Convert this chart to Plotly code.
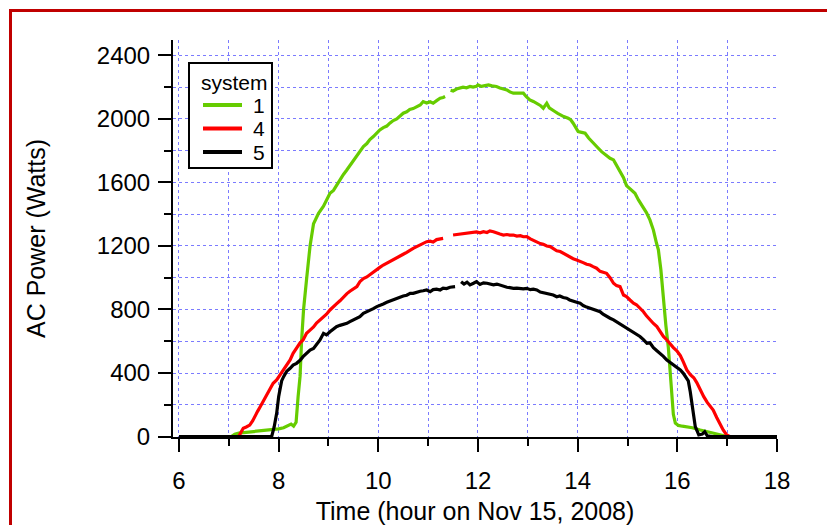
import plotly.graph_objects as go

# ---- data (hours, watts) ----
t1 = [6.0, 7.05, 7.12, 7.2, 7.3, 7.4, 7.5, 7.6, 7.7, 7.8, 7.9, 8.0, 8.1, 8.2, 8.25, 8.3, 8.35, 8.39, 8.43, 8.46,
      8.5, 8.56, 8.63, 8.7, 8.76, 8.8, 8.9, 8.96, 9.03, 9.1, 9.16, 9.23, 9.3, 9.36, 9.43, 9.5, 9.56, 9.63, 9.7, 9.77,
      9.83, 9.9, 9.97, 10.03, 10.1, 10.17, 10.23, 10.3, 10.37, 10.43, 10.5, 10.57, 10.63, 10.7, 10.77, 10.84, 10.9,
      10.97, 11.04, 11.1, 11.17, 11.24, 11.3, 11.34, 11.4, 11.45, 11.5, 11.57, 11.64, 11.7, 11.77, 11.84, 11.9, 11.97,
      12.0, 12.07, 12.14, 12.21, 12.28, 12.37, 12.44, 12.51, 12.58, 12.64, 12.71, 12.8, 12.91, 12.97, 13.04, 13.11,
      13.18, 13.25, 13.31, 13.38, 13.43, 13.48, 13.55, 13.6, 13.65, 13.72, 13.81, 13.86, 13.91, 13.96, 14.01, 14.08,
      14.15, 14.22, 14.31, 14.4, 14.48, 14.55, 14.65, 14.72, 14.78, 14.85, 14.92, 14.98, 15.05, 15.15, 15.22, 15.3,
      15.38, 15.45, 15.52, 15.58, 15.62, 15.67, 15.72, 15.77, 15.82, 15.86, 15.89, 15.92, 15.96, 16.02, 16.1, 16.19,
      16.3, 16.46, 16.6, 16.72, 16.85, 16.92, 17.0, 18.0]
p1 = [0, 0, 15, 22, 25, 28, 30, 33, 38, 40, 45, 48, 55, 70, 78, 65, 90, 250, 380, 600,
      800, 990, 1200, 1340, 1380, 1406, 1450, 1490, 1532, 1550, 1580, 1620, 1650, 1675, 1705, 1740, 1765, 1790, 1826, 1845,
      1870, 1889, 1915, 1931, 1945, 1955, 1973, 1990, 2000, 2020, 2036, 2045, 2060, 2065, 2078, 2088, 2109,
      2100, 2108, 2099, 2115, 2130, 2135, 2141, None, 2180, 2175, 2188, 2193, 2200, 2196, 2204, 2200, 2206,
      2214, 2205, 2210, 2214, 2208, 2204, 2195, 2190, 2183, 2170, 2162, 2162, 2162, 2140, 2120, 2110,
      2099, 2085, 2067, 2099, 2070, 2057, 2045, 2035, 2025, 2015, 2004, 1995, 1973, 1945, 1920, 1915,
      1910, 1880, 1847, 1820, 1794, 1775, 1752, 1742, 1710, 1668, 1630, 1580, 1560, 1532, 1490, 1450,
      1410, 1364, 1300, 1220, 1175, 1050, 860, 700, 560, 400, 300, 140, 85, 70, 65, 62,
      55, 41, 30, 20, 12, 8, 0, 0]

t4 = [6.0, 7.2, 7.25, 7.29, 7.35, 7.42, 7.48, 7.53, 7.58, 7.63, 7.7, 7.76, 7.83, 7.89, 7.96, 8.03, 8.1, 8.16, 8.23,
      8.29, 8.36, 8.43, 8.49, 8.56, 8.63, 8.7, 8.76, 8.83, 8.9, 8.96, 9.03, 9.1, 9.16, 9.23, 9.3, 9.37, 9.43, 9.5,
      9.57, 9.63, 9.7, 9.77, 9.83, 9.9, 9.97, 10.03, 10.1, 10.17, 10.23, 10.3, 10.37, 10.43, 10.5, 10.57, 10.64,
      10.7, 10.77, 10.84, 10.9, 10.97, 11.04, 11.1, 11.17, 11.24, 11.3, 11.4, 11.5, 11.57, 11.64, 11.7, 11.77,
      11.84, 11.9, 11.97, 12.04, 12.11, 12.18, 12.24, 12.31, 12.38, 12.44, 12.51, 12.58, 12.64, 12.71, 12.78,
      12.85, 12.91, 12.98, 13.05, 13.11, 13.18, 13.25, 13.31, 13.38, 13.45, 13.51, 13.58, 13.65, 13.71, 13.78,
      13.85, 13.91, 13.98, 14.05, 14.11, 14.18, 14.25, 14.31, 14.38, 14.45, 14.51, 14.58, 14.65, 14.72, 14.78,
      14.85, 14.92, 14.98, 15.05, 15.12, 15.18, 15.25, 15.32, 15.38, 15.45, 15.52, 15.59, 15.65, 15.72, 15.79,
      15.86, 15.92, 15.99, 16.06, 16.12, 16.19, 16.26, 16.33, 16.39, 16.46, 16.53, 16.6, 16.66, 16.72, 16.79,
      16.85, 16.92, 16.99, 17.05, 18.0]
p4 = [0, 0, 30, 52, 60, 72, 100, 135, 160, 188, 225, 261, 300, 335, 356, 387, 420, 450, 482,
      524, 560, 590, 608, 650, 670, 690, 715, 734, 750, 770, 797, 815, 835, 855, 880, 900, 915, 930,
      944, 975, 995, 1005, 1020, 1035, 1049, 1065, 1080, 1091, 1100, 1112, 1125, 1135, 1148, 1160, 1175,
      1185, 1196, 1205, 1218, 1227, 1230, 1225, 1240, 1245, 1248, None, 1269, 1272, 1275, 1276, 1280,
      1280, 1284, 1288, 1283, 1290, 1285, 1295, 1290, 1280, 1275, 1269, 1272, 1268, 1269, 1262,
      1265, 1258, 1259, 1245, 1235, 1227, 1215, 1210, 1200, 1196, 1185, 1170, 1165, 1154, 1140,
      1128, 1120, 1112, 1105, 1095, 1085, 1080, 1070, 1060, 1040, 1035, 1028, 1000, 965, 950,
      944, 891, 881, 860, 840, 830, 810, 786, 760, 734, 712, 692, 660, 630, 608,
      580, 560, 540, 510, 470, 420, 390, 370, 340, 293, 251, 215, 190, 167, 120,
      80, 41, 10, 0, 0]

t5 = [6.0, 7.86, 7.91, 7.96, 8.0, 8.03, 8.06, 8.1, 8.16, 8.23, 8.29, 8.36, 8.43, 8.49, 8.56, 8.63, 8.7, 8.76,
      8.83, 8.9, 8.96, 9.03, 9.1, 9.16, 9.23, 9.3, 9.37, 9.43, 9.5, 9.57, 9.63, 9.7, 9.77, 9.83, 9.9, 9.97,
      10.03, 10.1, 10.17, 10.23, 10.3, 10.37, 10.43, 10.5, 10.57, 10.64, 10.7, 10.77, 10.84, 10.9, 10.97,
      11.04, 11.1, 11.17, 11.24, 11.3, 11.37, 11.44, 11.54, 11.6, 11.66, 11.72, 11.78, 11.84, 11.91, 11.97,
      12.04, 12.11, 12.18, 12.24, 12.31, 12.38, 12.44, 12.51, 12.58, 12.64, 12.71, 12.78, 12.85, 12.91,
      12.98, 13.05, 13.11, 13.18, 13.25, 13.31, 13.38, 13.44, 13.51, 13.58, 13.64, 13.71, 13.78, 13.84,
      13.91, 13.98, 14.05, 14.11, 14.18, 14.25, 14.31, 14.38, 14.45, 14.51, 14.58, 14.65, 14.72, 14.78,
      14.85, 14.92, 14.98, 15.05, 15.12, 15.18, 15.25, 15.32, 15.39, 15.45, 15.52, 15.59, 15.65, 15.72,
      15.79, 15.86, 15.92, 15.99, 16.06, 16.12, 16.17, 16.22, 16.26, 16.29, 16.33, 16.36, 16.43, 16.5,
      16.55, 16.6, 16.7, 18.0]
p5 = [0, 0, 60, 146, 250, 314, 350, 377, 410, 430, 450, 461, 480, 503, 525, 545, 555, 580,
      608, 650, 640, 660, 675, 692, 700, 705, 713, 723, 735, 745, 755, 776, 785, 797, 805, 818,
      828, 835, 845, 852, 860, 871, 880, 885, 890, 902, 902, 910, 915, 918, 923,
      912, 925, 928, 923, 935, 932, 940, 944, None, 975, 960, 972, 955, 965, 975,
      958, 968, 965, 962, 955, 960, 954, 945, 940, 938, 933, 935, 932, 930,
      933, 925, 928, 923, 910, 905, 900, 895, 891, 880, 885, 875, 871, 860,
      850, 845, 839, 825, 815, 808, 797, 790, 786, 770, 755, 745, 735, 723,
      713, 700, 685, 672, 660, 645, 630, 610, 587, 590, 560, 540, 525, 505,
      482, 465, 450, 435, 419, 398, 375, 350, 280, 210, 130, 62, 10, 15,
      30, 5, 0, 0]

names = ["1", "4", "5"]
colors = ["#66cc00", "#ff0000", "#000000"]
legend_title = "system"
x_ticks = [6, 8, 10, 12, 14, 16, 18]
y_ticks = [0, 400, 800, 1200, 1600, 2000, 2400]

FONT = "Liberation Sans, Arial, sans-serif"

# plot area in pixels (for converting paper coordinates)
L, R, T, B = 173, 777, 40, 437
W_, H_ = R - L, B - T


def px(x):
    return (x - L) / W_


def py(y):
    return (B - y) / H_


fig = go.Figure()
for t, p, n, c in zip([t1, t4, t5], [p1, p4, p5], names, colors):
    fig.add_trace(go.Scatter(x=t, y=p, mode="lines", name=n, showlegend=False,
                             line=dict(color=c, width=3.2), connectgaps=False))

grid = dict(showgrid=True, gridcolor="#7b7bff", griddash="dot", gridwidth=1)

fig.update_layout(
    width=827, height=525,
    margin=dict(l=L, r=827 - R, t=T, b=525 - B),
    paper_bgcolor="white", plot_bgcolor="white",
    font=dict(family=FONT, color="black", size=24),
    showlegend=False,
    xaxis=dict(
        range=[5.88, 18], tickvals=x_ticks, ticktext=[str(v) for v in x_ticks],
        ticks="outside", ticklen=13, tickwidth=2, tickcolor="black",
        showline=True, linecolor="black", linewidth=2, zeroline=False,
        tickfont=dict(size=24), ticklabelstandoff=8, automargin=False,
        minor=dict(dtick=1, tick0=0, ticks="outside", ticklen=7, tickwidth=2, tickcolor="black", **grid),
        title=dict(text="Time (hour on Nov 15, 2008)", font=dict(size=25), standoff=10),
        **grid,
    ),
    yaxis=dict(
        range=[-3, 2497], tickvals=y_ticks, ticktext=[str(v) for v in y_ticks],
        ticks="outside", ticklen=13, tickwidth=2, tickcolor="black",
        showline=True, linecolor="black", linewidth=2, zeroline=False,
        tickfont=dict(size=24), ticklabelstandoff=3, automargin=False,
        minor=dict(dtick=200, tick0=0, ticks="outside", ticklen=7, tickwidth=2, tickcolor="black", **grid),
        title=dict(text="AC Power (Watts)", font=dict(size=25), standoff=44),
        **grid,
    ),
)

# custom legend box (matches the compact original legend)
fig.add_shape(type="rect", xref="paper", yref="paper",
              x0=px(189), x1=px(272), y0=py(168), y1=py(63),
              line=dict(color="black", width=2), fillcolor="white", layer="above")
fig.add_annotation(xref="paper", yref="paper", x=px(199), y=py(82), text=legend_title,
                   showarrow=False, xanchor="left", yanchor="middle", font=dict(size=21))
for i, (n, c) in enumerate(zip(names, colors)):
    yy = 105 + i * 23.5
    fig.add_shape(type="line", xref="paper", yref="paper",
                  x0=px(203), x1=px(242), y0=py(yy), y1=py(yy),
                  line=dict(color=c, width=4), layer="above")
    fig.add_annotation(xref="paper", yref="paper", x=px(251), y=py(yy), text=n,
                       showarrow=False, xanchor="left", yanchor="middle", font=dict(size=21))

# dark red frame around the figure
fig.add_shape(type="rect", xref="paper", yref="paper",
              x0=px(10.5), x1=px(840), y0=py(540), y1=py(10.5),
              line=dict(color="#c00000", width=3), fillcolor="rgba(0,0,0,0)", layer="above")

fig.write_html("out.html")
